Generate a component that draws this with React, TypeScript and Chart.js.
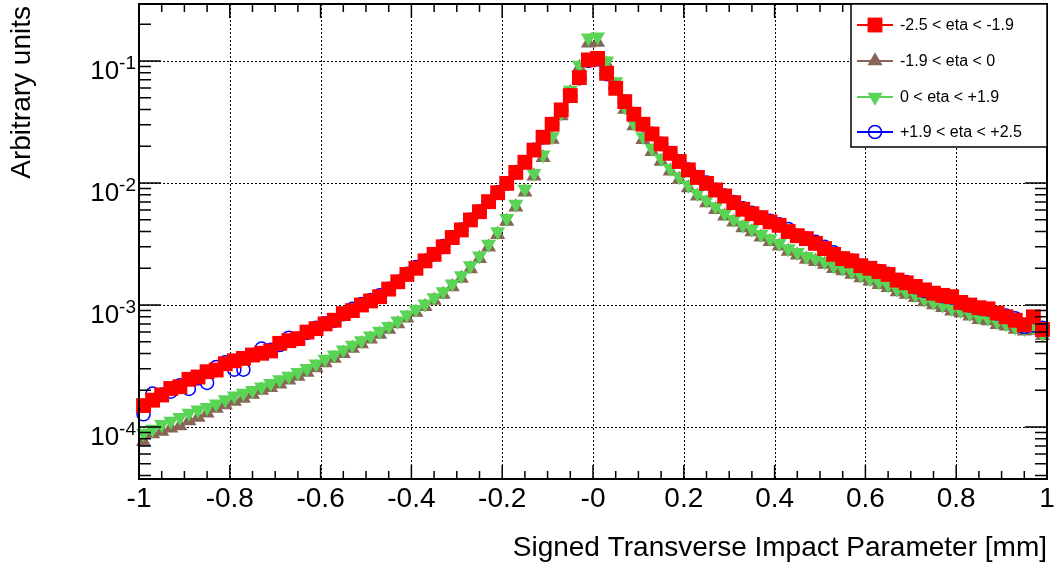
import React, { useEffect, useRef } from "react";
import { Chart, registerables } from "chart.js";

Chart.register(...registerables);

const X_MIN = -1;
const X_MAX = 1;
const N_BINS = 100;
const Y_MIN = 3.75e-5;
const Y_MAX = 0.293;

const X_TICKS = [-1, -0.8, -0.6, -0.4, -0.2, 0, 0.2, 0.4, 0.6, 0.8, 1];
const X_TICK_LABELS = ["-1", "-0.8", "-0.6", "-0.4", "-0.2", "-0", "0.2", "0.4", "0.6", "0.8", "1"];
const X_MINOR_STEP = 0.05;
const Y_TICKS = [1e-4, 1e-3, 1e-2, 1e-1];
const Y_TICK_EXP = ["-4", "-3", "-2", "-1"];

const X_TITLE = "Signed Transverse Impact Parameter [mm]";
const Y_TITLE = "Arbitrary units";

const SERIES_LABELS = ["-2.5 < eta < -1.9", "-1.9 < eta < 0", "0 < eta < +1.9", "+1.9 < eta < +2.5"];
const SERIES_COLORS = ["#ff0000", "#876657", "#59d454", "#0000ff"];

const BIN_CENTERS = Array.from({ length: N_BINS }, (_, i) => X_MIN + ((i + 0.5) * (X_MAX - X_MIN)) / N_BINS);

const RED = [
  1.5e-4, 1.66e-4, 1.83e-4, 2.07e-4, 2.14e-4, 2.46e-4, 2.57e-4, 2.84e-4, 2.93e-4, 3.3e-4,
  3.49e-4, 3.65e-4, 3.89e-4, 4.02e-4, 4.2e-4, 4.85e-4, 5.1e-4, 5.3e-4, 6.0e-4, 6.4e-4,
  7.0e-4, 7.5e-4, 8.5e-4, 9.0e-4, 1.0e-3, 1.08e-3, 1.17e-3, 1.35e-3, 1.55e-3, 1.78e-3,
  2.0e-3, 2.3e-3, 2.6e-3, 3.0e-3, 3.57e-3, 4.12e-3, 4.98e-3, 5.82e-3, 7.03e-3, 8.32e-3,
  9.93e-3, 1.22e-2, 1.48e-2, 1.86e-2, 2.37e-2, 3.03e-2, 3.97e-2, 5.2e-2, 7.3e-2, 1.02e-1,
  1.05e-1, 7.92e-2, 5.97e-2, 4.64e-2, 3.66e-2, 3.03e-2, 2.52e-2, 2.09e-2, 1.75e-2, 1.5e-2,
  1.28e-2, 1.11e-2, 9.93e-3, 8.77e-3, 7.82e-3, 6.9e-3, 6.09e-3, 5.6e-3, 5.2e-3, 4.8e-3,
  4.5e-3, 4.0e-3, 3.7e-3, 3.5e-3, 3.2e-3, 2.9e-3, 2.6e-3, 2.4e-3, 2.3e-3, 2.1e-3,
  2.0e-3, 1.88e-3, 1.78e-3, 1.6e-3, 1.52e-3, 1.42e-3, 1.33e-3, 1.25e-3, 1.2e-3, 1.17e-3,
  1.05e-3, 1.0e-3, 9.5e-4, 9.3e-4, 8.6e-4, 8.0e-4, 7.5e-4, 6.9e-4, 8.0e-4, 6.3e-4,
];

const BROWN = [
  7.6e-5, 8.8e-5, 9.2e-5, 9.8e-5, 1.02e-4, 1.12e-4, 1.2e-4, 1.3e-4, 1.42e-4, 1.52e-4,
  1.62e-4, 1.72e-4, 1.85e-4, 2.0e-4, 2.1e-4, 2.25e-4, 2.42e-4, 2.6e-4, 2.8e-4, 3.05e-4,
  3.35e-4, 3.65e-4, 4.0e-4, 4.4e-4, 4.8e-4, 5.25e-4, 5.75e-4, 6.3e-4, 7.0e-4, 7.8e-4,
  8.7e-4, 9.7e-4, 1.09e-3, 1.22e-3, 1.41e-3, 1.65e-3, 1.98e-3, 2.4e-3, 2.98e-3, 3.78e-3,
  4.85e-3, 6.35e-3, 8.4e-3, 1.14e-2, 1.61e-2, 2.28e-2, 3.55e-2, 5.5e-2, 8.8e-2, 1.4e-1,
  1.42e-1, 9.4e-2, 6.3e-2, 4.0e-2, 2.93e-2, 2.27e-2, 1.81e-2, 1.5e-2, 1.25e-2, 1.07e-2,
  9.1e-3, 7.8e-3, 6.87e-3, 6.05e-3, 5.35e-3, 4.77e-3, 4.29e-3, 3.97e-3, 3.6e-3, 3.31e-3,
  3.03e-3, 2.75e-3, 2.56e-3, 2.37e-3, 2.27e-3, 2.15e-3, 1.99e-3, 1.9e-3, 1.78e-3, 1.67e-3,
  1.57e-3, 1.47e-3, 1.39e-3, 1.28e-3, 1.22e-3, 1.15e-3, 1.06e-3, 1.0e-3, 9.5e-4, 8.9e-4,
  8.6e-4, 8.1e-4, 7.6e-4, 7.4e-4, 6.9e-4, 6.7e-4, 6.3e-4, 6.1e-4, 6.2e-4, 5.6e-4,
];

const GREEN = [
  8.9e-5, 9.6e-5, 1.05e-4, 1.12e-4, 1.2e-4, 1.3e-4, 1.38e-4, 1.45e-4, 1.55e-4, 1.68e-4,
  1.8e-4, 1.9e-4, 2.0e-4, 2.13e-4, 2.28e-4, 2.45e-4, 2.62e-4, 2.8e-4, 3.02e-4, 3.3e-4,
  3.6e-4, 3.9e-4, 4.3e-4, 4.7e-4, 5.1e-4, 5.6e-4, 6.1e-4, 6.7e-4, 7.4e-4, 8.3e-4,
  9.2e-4, 1.02e-3, 1.15e-3, 1.29e-3, 1.49e-3, 1.74e-3, 2.1e-3, 2.53e-3, 3.15e-3, 3.99e-3,
  5.14e-3, 6.7e-3, 8.9e-3, 1.2e-2, 1.7e-2, 2.4e-2, 3.75e-2, 5.78e-2, 9.27e-2, 1.55e-1,
  1.58e-1, 1.0e-1, 6.77e-2, 4.23e-2, 3.1e-2, 2.4e-2, 1.92e-2, 1.59e-2, 1.32e-2, 1.13e-2,
  9.64e-3, 8.24e-3, 7.26e-3, 6.4e-3, 5.65e-3, 5.04e-3, 4.53e-3, 4.2e-3, 3.8e-3, 3.5e-3,
  3.2e-3, 2.9e-3, 2.7e-3, 2.5e-3, 2.4e-3, 2.27e-3, 2.1e-3, 2.0e-3, 1.88e-3, 1.76e-3,
  1.65e-3, 1.55e-3, 1.46e-3, 1.35e-3, 1.28e-3, 1.21e-3, 1.12e-3, 1.05e-3, 1.0e-3, 9.4e-4,
  9.0e-4, 8.5e-4, 8.0e-4, 7.8e-4, 7.3e-4, 7.0e-4, 6.6e-4, 6.4e-4, 6.6e-4, 5.8e-4,
];

const BLUE = [
  1.27e-4, 1.88e-4, 1.85e-4, 1.95e-4, 2.2e-4, 2.05e-4, 2.5e-4, 2.3e-4, 3.1e-4, 3.4e-4,
  2.95e-4, 2.95e-4, 3.9e-4, 4.4e-4, 4.3e-4, 4.7e-4, 5.4e-4, 5.3e-4, 5.9e-4, 6.5e-4,
  7.1e-4, 7.4e-4, 8.4e-4, 9.3e-4, 1.02e-3, 1.1e-3, 1.2e-3, 1.36e-3, 1.55e-3, 1.8e-3,
  2.05e-3, 2.3e-3, 2.6e-3, 3.05e-3, 3.6e-3, 4.15e-3, 5.0e-3, 5.85e-3, 7.0e-3, 8.4e-3,
  9.9e-3, 1.23e-2, 1.48e-2, 1.87e-2, 2.36e-2, 3.05e-2, 3.96e-2, 5.2e-2, 7.2e-2, 1.0e-1,
  1.03e-1, 7.8e-2, 6.0e-2, 4.65e-2, 3.68e-2, 3.02e-2, 2.53e-2, 2.1e-2, 1.76e-2, 1.51e-2,
  1.29e-2, 1.12e-2, 1.01e-2, 8.8e-3, 7.9e-3, 7.0e-3, 6.2e-3, 5.7e-3, 5.2e-3, 4.9e-3,
  4.6e-3, 4.2e-3, 3.7e-3, 3.5e-3, 3.3e-3, 3.0e-3, 2.7e-3, 2.4e-3, 2.3e-3, 2.1e-3,
  2.0e-3, 1.9e-3, 1.8e-3, 1.6e-3, 1.54e-3, 1.4e-3, 1.3e-3, 1.25e-3, 1.18e-3, 1.15e-3,
  1.04e-3, 9.9e-4, 9.4e-4, 9.2e-4, 8.5e-4, 8.2e-4, 7.8e-4, 6.6e-4, 6.8e-4, 6.5e-4,
];

const SERIES_VALUES = [RED, BROWN, GREEN, BLUE];
const FONT = "'Liberation Sans', Arial, Helvetica, sans-serif";

const pointStyles: any[] = [
  { pointStyle: "rect", pointRadius: 10.5, pointRotation: 0, fill: true, borderWidth: 0 },
  { pointStyle: "triangle", pointRadius: 8.7, pointRotation: 0, fill: true, borderWidth: 0 },
  { pointStyle: "triangle", pointRadius: 8.7, pointRotation: 180, fill: true, borderWidth: 0 },
  { pointStyle: "circle", pointRadius: 6.5, pointRotation: 0, fill: false, borderWidth: 1.5 },
];
const DRAW_ORDER = [0, 3, 2, 1];

function drawPointHelper(ctx: CanvasRenderingContext2D, ps: any, x: number, y: number) {
  const r = ps.pointRadius;
  ctx.beginPath();
  if (ps.pointStyle === "rect") {
    const s = Math.SQRT1_2 * r;
    ctx.rect(x - s, y - s, 2 * s, 2 * s);
  } else if (ps.pointStyle === "triangle") {
    let rad = (ps.pointRotation * Math.PI) / 180;
    ctx.moveTo(x + Math.sin(rad) * r, y - Math.cos(rad) * r);
    rad += (2 * Math.PI) / 3;
    ctx.lineTo(x + Math.sin(rad) * r, y - Math.cos(rad) * r);
    rad += (2 * Math.PI) / 3;
    ctx.lineTo(x + Math.sin(rad) * r, y - Math.cos(rad) * r);
    ctx.closePath();
  } else {
    ctx.arc(x, y, r, 0, Math.PI * 2);
  }
  if (ps.fill) ctx.fill();
  if (ps.borderWidth > 0) ctx.stroke();
}

const rootPlugin = {
  id: "rootStyle",
  beforeDatasetsDraw(chart: any) {
    const ctx: CanvasRenderingContext2D = chart.ctx;
    const { left, right, top, bottom } = chart.chartArea;
    const xs = chart.scales.x;
    const ys = chart.scales.y;
    ctx.save();
    ctx.strokeStyle = "#000";
    ctx.lineWidth = 1;
    ctx.setLineDash([2, 2]);
    X_TICKS.forEach((v) => {
      if (v === X_MIN || v === X_MAX) return;
      const px = Math.round(xs.getPixelForValue(v)) + 0.5;
      ctx.beginPath();
      ctx.moveTo(px, top);
      ctx.lineTo(px, bottom);
      ctx.stroke();
    });
    Y_TICKS.forEach((v) => {
      const py = Math.round(ys.getPixelForValue(v)) + 0.5;
      ctx.beginPath();
      ctx.moveTo(left, py);
      ctx.lineTo(right, py);
      ctx.stroke();
    });
    ctx.restore();
  },
  afterDatasetsDraw(chart: any) {
    const ctx: CanvasRenderingContext2D = chart.ctx;
    const { left, right, top, bottom } = chart.chartArea;
    const xs = chart.scales.x;
    const ys = chart.scales.y;
    ctx.save();
    ctx.strokeStyle = "#000";
    ctx.setLineDash([]);
    ctx.lineWidth = 1.5;
    const xMajor = 14;
    const xMinor = 8;
    const nMinor = Math.round((X_MAX - X_MIN) / X_MINOR_STEP);
    for (let k = 0; k <= nMinor; k++) {
      const v = X_MIN + k * X_MINOR_STEP;
      const isMajor = Math.abs(v * 5 - Math.round(v * 5)) < 1e-6;
      const len = isMajor ? xMajor : xMinor;
      const px = xs.getPixelForValue(v);
      ctx.beginPath();
      ctx.moveTo(px, bottom);
      ctx.lineTo(px, bottom - len);
      ctx.moveTo(px, top);
      ctx.lineTo(px, top + len);
      ctx.stroke();
    }
    const yMajor = 22;
    const yMinor = 12;
    for (let e = -5; e <= 0; e++) {
      for (let m = 1; m <= 9; m++) {
        const v = m * Math.pow(10, e);
        if (v < Y_MIN || v > Y_MAX) continue;
        const len = m === 1 ? yMajor : yMinor;
        const py = ys.getPixelForValue(v);
        ctx.beginPath();
        ctx.moveTo(left, py);
        ctx.lineTo(left + len, py);
        ctx.moveTo(right, py);
        ctx.lineTo(right - len, py);
        ctx.stroke();
      }
    }
    ctx.lineWidth = 2;
    ctx.strokeRect(left, top, right - left, bottom - top);

    ctx.fillStyle = "#000";
    ctx.font = `28px ${FONT}`;
    ctx.textAlign = "center";
    ctx.textBaseline = "alphabetic";
    X_TICKS.forEach((v, i) => {
      ctx.fillText(X_TICK_LABELS[i], xs.getPixelForValue(v), 507);
    });
    Y_TICKS.forEach((v, i) => {
      const py = ys.getPixelForValue(v);
      ctx.font = `19px ${FONT}`;
      const supW = ctx.measureText(Y_TICK_EXP[i]).width;
      const endX = 136;
      ctx.textAlign = "right";
      ctx.fillText(Y_TICK_EXP[i], endX, py + 8);
      ctx.font = `26px ${FONT}`;
      ctx.fillText("10", endX - supW, py + 18);
    });
    ctx.font = `28px ${FONT}`;
    ctx.textAlign = "right";
    ctx.fillText(X_TITLE, right, 556);
    ctx.save();
    ctx.translate(30, top + 2);
    ctx.rotate(-Math.PI / 2);
    ctx.textAlign = "right";
    ctx.fillText(Y_TITLE, 0, 0);
    ctx.restore();

    const lx = 851;
    const ly = top;
    const lw = right - lx;
    const lh = 147 - top;
    ctx.fillStyle = "#fff";
    ctx.fillRect(lx, ly, lw, lh);
    ctx.lineWidth = 1.5;
    ctx.strokeStyle = "#000";
    ctx.strokeRect(lx, ly, lw, lh);
    const rows = [25, 61, 97, 132];
    SERIES_LABELS.forEach((label, i) => {
      const ry = rows[i];
      const color = SERIES_COLORS[i];
      ctx.strokeStyle = color;
      ctx.lineWidth = 2;
      ctx.beginPath();
      ctx.moveTo(857, ry);
      ctx.lineTo(893, ry);
      ctx.stroke();
      const ps = pointStyles[i];
      ctx.fillStyle = ps.fill ? color : "#fff";
      ctx.strokeStyle = color;
      ctx.lineWidth = ps.borderWidth || 0;
      drawPointHelper(ctx, ps, 875, ry);
      ctx.fillStyle = "#000";
      ctx.font = `16px ${FONT}`;
      ctx.textAlign = "left";
      ctx.textBaseline = "middle";
      ctx.fillText(label, 900, ry + 1);
      ctx.textBaseline = "alphabetic";
    });
    ctx.restore();
  },
};

export default function App() {
  const canvasRef = useRef<HTMLCanvasElement | null>(null);
  useEffect(() => {
    document.body.style.margin = "0";
    const canvas = canvasRef.current;
    if (!canvas) return;
    const datasets = SERIES_VALUES.map((vals, i) => {
      const ps = pointStyles[i];
      return {
        label: SERIES_LABELS[i],
        data: vals.map((v, j) => ({ x: BIN_CENTERS[j], y: v })),
        showLine: false,
        pointStyle: ps.pointStyle,
        pointRadius: ps.pointRadius,
        pointHoverRadius: ps.pointRadius,
        pointRotation: ps.pointRotation,
        pointBackgroundColor: ps.fill ? SERIES_COLORS[i] : "rgba(0,0,0,0)",
        pointBorderColor: SERIES_COLORS[i],
        pointBorderWidth: ps.borderWidth,
        backgroundColor: SERIES_COLORS[i],
        borderColor: SERIES_COLORS[i],
        order: DRAW_ORDER[i],
        clip: false as any,
      };
    });
    const chart = new Chart(canvas, {
      type: "scatter",
      data: { datasets },
      options: {
        animation: false,
        responsive: false,
        devicePixelRatio: 1,
        layout: { autoPadding: false, padding: { left: 139, right: 8, top: 4, bottom: 84 } },
        scales: {
          x: { type: "linear", min: X_MIN, max: X_MAX, display: false },
          y: { type: "logarithmic", min: Y_MIN, max: Y_MAX, display: false },
        },
        plugins: { legend: { display: false }, tooltip: { enabled: false } },
        events: [],
      },
      plugins: [rootPlugin],
    });
    return () => chart.destroy();
  }, []);
  return (
    <div style={{ position: "absolute", left: 0, top: 0, width: 1055, height: 563, background: "#fff" }}>
      <canvas ref={canvasRef} width={1055} height={563} style={{ display: "block" }} />
    </div>
  );
}
